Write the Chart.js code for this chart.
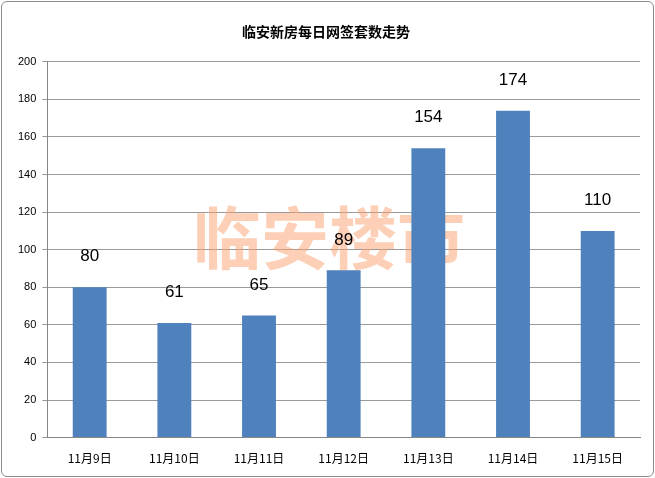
<!DOCTYPE html>
<html>
<head>
<meta charset="utf-8">
<script src="https://cdn.jsdelivr.net/npm/chart.js@4"></script>
<style>
html, body { margin: 0; padding: 0; background: #fff; }
#wrap { position: absolute; left: 1px; top: 1px; width: 651px; height: 474px; border: 1px solid #8c8c8c; border-radius: 6px; background: #fff; }
</style>
</head>
<body>
<div id="wrap"><canvas id="chart" width="651" height="474"></canvas></div>
<script>
var categories = ['11月9日', '11月10日', '11月11日', '11月12日', '11月13日', '11月14日', '11月15日'];
var counts = [80, 61, 65, 89, 154, 174, 110];
var titleText = '临安新房每日网签套数走势';
var watermarkText = '临安楼市';

// faint watermark behind the bars
var watermarkPlugin = {
    id: 'watermark',
    beforeDatasetsDraw: function(chart) {
        var ctx = chart.ctx;
        ctx.save();
        ctx.font = 'bold 68px "Noto Sans CJK SC"';
        ctx.fillStyle = 'rgba(250, 160, 110, 0.5)';
        ctx.textAlign = 'center';
        ctx.textBaseline = 'middle';
        ctx.fillText(watermarkText, 327, 236);
        ctx.restore();
    }
};

// value labels above the bars
var labelPlugin = {
    id: 'labels',
    afterDatasetsDraw: function(chart) {
        var ctx = chart.ctx;
        ctx.save();
        ctx.font = '17px "Liberation Sans", Arial';
        ctx.fillStyle = '#000';
        ctx.textAlign = 'center';
        ctx.textBaseline = 'bottom';
        chart.getDatasetMeta(0).data.forEach(function(bar, i) {
            ctx.fillText(counts[i], bar.x, bar.y - 22);
        });
        ctx.restore();
    }
};

new Chart(document.getElementById('chart').getContext('2d'), {
    type: 'bar',
    data: {
        labels: categories,
        datasets: [{
            data: counts,
            backgroundColor: '#4F81BD',
            borderWidth: 0,
            categoryPercentage: 1.0,
            barPercentage: 0.4
        }]
    },
    options: {
        responsive: false,
        animation: false,
        layout: { padding: { left: 10, right: 13, top: 15, bottom: 4 } },
        plugins: {
            legend: { display: false },
            tooltip: { enabled: false },
            title: {
                display: true,
                text: titleText,
                color: '#000',
                font: { family: '"Noto Sans CJK SC"', size: 14, weight: 'bold' },
                padding: { top: 6, bottom: 22 }
            }
        },
        scales: {
            x: {
                grid: { display: false },
                border: { color: '#868686' },
                ticks: { color: '#000', font: { family: '"Noto Sans CJK SC"', size: 12 }, padding: 6 }
            },
            y: {
                min: 0, max: 200,
                ticks: { stepSize: 20, color: '#000', font: { family: '"Liberation Sans", Arial', size: 11 }, padding: 6 },
                grid: { color: '#9a9a9a', tickLength: 5 },
                border: { color: '#868686' }
            }
        }
    },
    plugins: [watermarkPlugin, labelPlugin]
});
</script>
</body>
</html>
